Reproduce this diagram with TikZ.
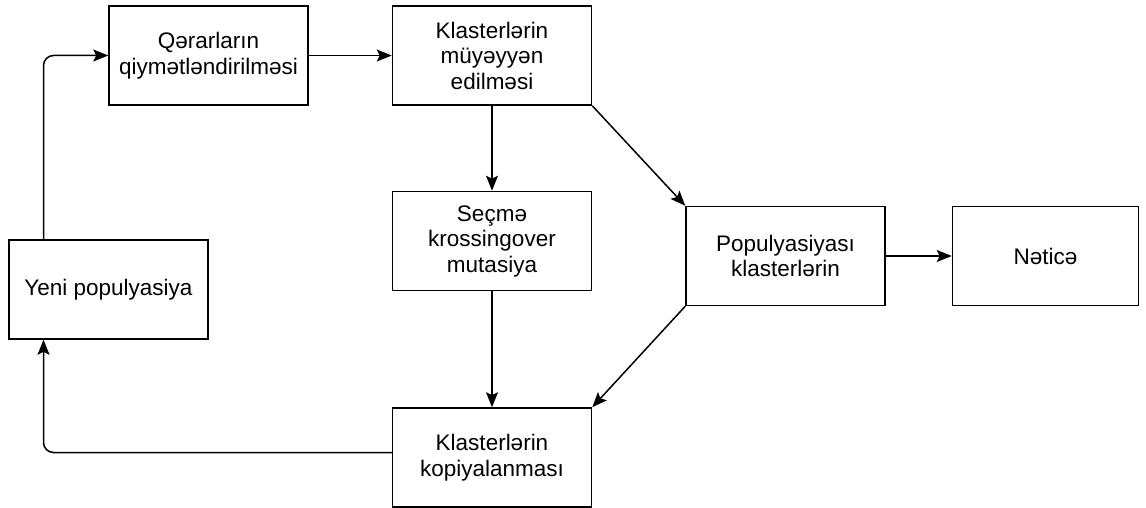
\documentclass[tikz,border=0pt]{standalone}
\usepackage{fontspec}
\setmainfont{Liberation Sans}
\usetikzlibrary{arrows.meta,positioning}

\begin{document}
\begin{tikzpicture}[
  x=1pt,y=-1pt,
  node distance=80pt,
  box/.style={rectangle,draw,line width=1.5pt,align=center,minimum width=199pt,minimum height=99pt,
    inner sep=0pt,font=\fontsize{22.5}{25.5}\selectfont},
  arr/.style={-{Stealth[length=15pt,width=12pt,inset=3pt]},line width=1.5pt}
]
\useasboundingbox (0,0) rectangle (1146,508);
\node[box] (qerar) at (208.5,55.5) {Qərarların\\qiymətləndirilməsi};
\node[box,right=83pt of qerar] (muey) {Klasterlərin\\müyəyyən\\edilməsi};
\node[box,below=85pt of muey] (secme) {Seçmə\\krossingover\\mutasiya};
\node[box,below=116pt of secme] (kopya) {Klasterlərin\\kopiyalanması};
\node[box,below right=100pt and 93pt of muey] (popul) {Populyasiyası\\klasterlərin};
\node[box,right=66pt of popul,minimum width=186pt] (netice) {Nəticə};
\node[box] (yeni) at (108.5,289.5) {Yeni populyasiya};

\draw[arr,rounded corners=10pt] ([xshift=-65pt]yeni.north) |- (qerar.west);
\draw[arr] (qerar) -- (muey);
\draw[arr] (muey) -- (secme);
\draw[arr] (muey.south east) -- (popul.north west);
\draw[arr] (popul) -- (netice);
\draw[arr] (popul.south west) -- (kopya.north east);
\draw[arr] (secme) -- (kopya);
\draw[arr,rounded corners=10pt] ([yshift=5pt]kopya.west) -| ([xshift=-65pt]yeni.south);
\end{tikzpicture}
\end{document}
